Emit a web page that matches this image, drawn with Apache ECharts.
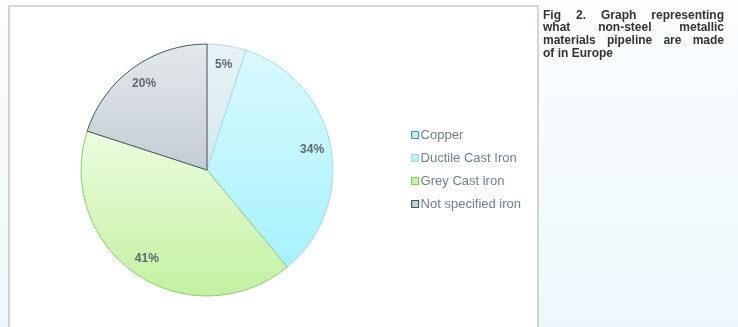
<!DOCTYPE html>
<html>
<head>
<meta charset="utf-8">
<script src="https://cdn.jsdelivr.net/npm/echarts@6/dist/echarts.min.js"></script>
<style>
    html, body { margin: 0; padding: 0; }
    #chart { width: 738px; height: 327px; }
</style>
</head>
<body>
<div id="chart"></div>
<script>
// data
const materials = ["Copper", "Ductile Cast Iron", "Grey Cast iron", "Not specified iron"];
const shares = [5, 34, 41, 20];
const titleLines = [
    "Fig 2. Graph representing",
    "what non-steel metallic",
    "materials pipeline are made",
    "of in Europe"
];

// fill gradients (top, bottom), border, legend icon
const sliceStyles = [
    { top: "#e8f3f6", bottom: "#d4e8ee", border: "#b8dbe2", icon: "#cfeaf0", iconBorder: "#3a9fb0" },
    { top: "#dafafe", bottom: "#a6f2fc", border: "#a6dde6", icon: "#bff2fa", iconBorder: "#9fdce8" },
    { top: "#ecfcdf", bottom: "#c2f1a0", border: "#93c97c", icon: "#c9f2ad", iconBorder: "#86cc63" },
    { top: "#e4e8eb", bottom: "#c4cdd3", border: "#3f5a5e", icon: "#c7d0d3", iconBorder: "#3d5c64" }
];

const chart = echarts.init(document.getElementById("chart"));

function grad(s) {
    return new echarts.graphic.LinearGradient(0, 0, 0, 1, [
        { offset: 0, color: s.top },
        { offset: 1, color: s.bottom }
    ]);
}

// justified title, one word at a time
const titleFont = "bold 12px 'Liberation Sans', Arial, sans-serif";
const ctx = document.createElement("canvas").getContext("2d");
ctx.font = titleFont;
const titleLeft = 543, titleRight = 724;
let titleGraphics = [];
titleLines.forEach(function (line, i) {
    let words = line.split(" ");
    let y = 15.5 + i * 12.6;
    let last = i === titleLines.length - 1;
    let widths = words.map(w => ctx.measureText(w).width);
    let total = widths.reduce((a, b) => a + b, 0);
    let gap = last ? ctx.measureText(" ").width : (titleRight - titleLeft - total) / (words.length - 1);
    let x = titleLeft;
    words.forEach(function (w, j) {
        titleGraphics.push({
            type: "text",
            x: x, y: y,
            style: { text: w, font: titleFont, fill: "#333333", verticalAlign: "middle" }
        });
        x += widths[j] + gap;
    });
});

let pieData = materials.map((name, i) => ({
    name: name,
    value: shares[i],
    itemStyle: { color: grad(sliceStyles[i]), borderColor: sliceStyles[i].border, borderWidth: 1 }
}));

let labelData = materials.map((name, i) => ({ name: name, value: shares[i] }));

let option = {
    backgroundColor: new echarts.graphic.LinearGradient(0, 0, 0, 1, [
        { offset: 0, color: "#fbfdfe" },
        { offset: 1, color: "#eef8fc" }
    ]),
    animation: false,
    graphic: [
        {
            type: "rect",
            shape: { x: 9, y: 6, width: 529, height: 340 },
            style: { fill: "#ffffff", stroke: "#c6c6c6", lineWidth: 1.5 },
            z: -10
        }
    ].concat(titleGraphics),
    legend: {
        orient: "vertical",
        left: 406,
        top: 123,
        itemWidth: 7,
        itemHeight: 7,
        itemGap: 9,
        icon: "rect",
        selectedMode: false,
        textStyle: {
            color: "#6f8087",
            fontSize: 13,
            lineHeight: 14,
            fontFamily: "Liberation Sans, Arial, sans-serif",
            padding: [0, 0, 0, -3]
        },
        data: materials.map((name, i) => ({
            name: name,
            itemStyle: { color: sliceStyles[i].icon, borderColor: sliceStyles[i].iconBorder, borderWidth: 1.2 }
        }))
    },
    series: [
        {
            type: "pie",
            center: [207, 170],
            radius: [0, 126],
            startAngle: 90,
            clockwise: true,
            silent: true,
            label: { show: false },
            labelLine: { show: false },
            data: pieData
        },
        {
            // invisible ring used only to place the percentage labels
            type: "pie",
            center: [207, 170],
            radius: [82, 126],
            startAngle: 90,
            clockwise: true,
            silent: true,
            itemStyle: { color: "rgba(0,0,0,0)" },
            label: {
                show: true,
                position: "inside",
                formatter: "{c}%",
                color: "#5d6a6c",
                fontSize: 12,
                fontWeight: "bold",
                fontFamily: "Liberation Sans, Arial, sans-serif"
            },
            labelLine: { show: false },
            data: labelData
        }
    ]
};

chart.setOption(option);
</script>
</body>
</html>
